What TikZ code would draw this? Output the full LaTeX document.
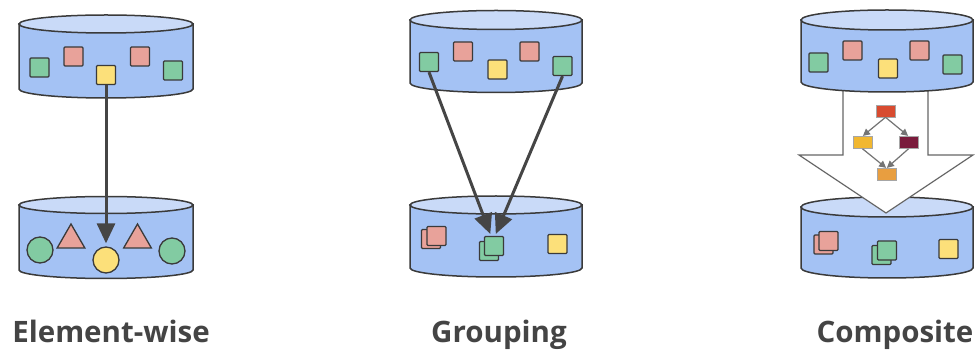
\documentclass[tikz,border=0pt]{standalone}
\usepackage{fontspec}
\setmainfont{Open Sans}
\usetikzlibrary{shapes.geometric,arrows.meta}

\definecolor{drumside}{HTML}{A4C2F4}
\definecolor{drumtop}{HTML}{C9DAF8}
\definecolor{inkline}{HTML}{3A3A3A}
\definecolor{itemgreen}{HTML}{82CBA2}
\definecolor{itemred}{HTML}{E8A29A}
\definecolor{itemyellow}{HTML}{FCE07A}
\definecolor{arrowgray}{HTML}{454545}
\definecolor{stepred}{HTML}{D84B30}
\definecolor{stepyellow}{HTML}{F1B730}
\definecolor{stepmaroon}{HTML}{7A1B3C}
\definecolor{steporange}{HTML}{E89E40}
\definecolor{labelgray}{HTML}{444444}

% A storage drum: centre x, top y, bottom y, x radius, y radius
\newcommand\drumshape[5]{%
  \filldraw[fill=drumside,draw=inkline,line width=1.5pt]
    (#1-#4,#2) -- (#1-#4,#3)
    arc[start angle=180,end angle=360,x radius=#4pt,y radius=#5pt]
    -- (#1+#4,#2) -- cycle;
  \filldraw[fill=drumtop,draw=inkline,line width=1.5pt]
    (#1,#2) ellipse[x radius=#4pt,y radius=#5pt];
}

\tikzset{
  item/.style={draw=inkline,line width=1.3pt,inner sep=0pt,minimum size=19pt,rounded corners=1pt},
  gsq/.style={item,fill=itemgreen},
  rsq/.style={item,fill=itemred},
  ysq/.style={item,fill=itemyellow},
  gdot/.style={circle,draw=inkline,line width=1.3pt,inner sep=0pt,minimum size=26pt,fill=itemgreen},
  ydot/.style={gdot,fill=itemyellow},
  rtri/.style={regular polygon,regular polygon sides=3,draw=inkline,line width=1.3pt,inner sep=0pt,minimum size=32pt,fill=itemred},
  flow/.style={draw=arrowgray,line width=3pt,-{Triangle[width=18pt,length=20pt]}},
  stepbox/.style={draw=gray!70,line width=0.6pt,inner sep=0pt,minimum width=19pt,minimum height=12pt},
  steparrow/.style={draw=gray!90!black,line width=1.2pt,-{Triangle[width=7pt,length=7pt]},shorten >=0.5pt},
  caption/.style={font=\bfseries\fontsize{29.5}{34}\selectfont,text=labelgray,anchor=base,inner sep=0pt}
}

\begin{document}
\begin{tikzpicture}[x=1pt,y=-1pt]
\useasboundingbox (0,0) rectangle (976,352);

% ---------- Element-wise ----------
\drumshape{106}{24}{89}{87}{9}
\drumshape{106}{205}{270}{87}{8.5}
\node[gsq] (e1) at (39.5,67.5) {};
\node[rsq] (e2) at (73.5,56.5) {};
\node[ysq] (e3) at (106,75) {};
\node[rsq] (e4) at (140,56.5) {};
\node[gsq] (e5) at (173,70.5) {};
\node[gdot] (f1) at (40,250) {};
\node[rtri] (f2) at (71,240) {};
\node[ydot] (f3) at (106,260) {};
\node[rtri] (f4) at (137.5,240) {};
\node[gdot] (f5) at (172,251) {};
\draw[flow,shorten >=3pt] (e3.south) -- (f3.north);

% ---------- Grouping ----------
\drumshape{496}{20}{83}{86}{9.5}
\drumshape{496}{205}{268}{86}{9}
\node[gsq] (g1) at (429,62) {};
\node[rsq] (g2) at (463,51.5) {};
\node[ysq] (g3) at (497.5,69.5) {};
\node[rsq] (g4) at (529.5,51.5) {};
\node[gsq] (g5) at (562.5,66) {};
\node[rsq] (h1b) at (431,239) {};
\node[rsq] (h1) at (436.5,236) {};
\node[gsq] (h2b) at (489,251) {};
\node[gsq] (h2) at (494,246) {};
\node[ysq] (h3) at (557.5,244) {};
\draw[flow,shorten >=2pt] (g1.south) -- ([xshift=-3pt]h2.north);
\draw[flow,shorten >=2pt] (g5.south) -- ([xshift=1pt]h2.north);

% ---------- Composite ----------
\drumshape{887}{207}{268}{86}{10}
\filldraw[fill=white,draw=gray!80!black,line width=1.2pt,line join=miter]
  (843,80) -- (843,155) -- (799,155) -- (886,213) -- (973,155) -- (928,155) -- (928,80);
\drumshape{887}{20}{82}{86}{10}
\node[gsq] (c1) at (818.5,62.5) {};
\node[rsq] (c2) at (852.5,50.5) {};
\node[ysq] (c3) at (888,68.5) {};
\node[rsq] (c4) at (919.5,50.5) {};
\node[gsq] (c5) at (952.5,64.5) {};
\node[rsq] (d1b) at (823.5,244.5) {};
\node[rsq] (d1) at (828.5,241) {};
\node[gsq] (d2b) at (881.5,255) {};
\node[gsq] (d2) at (887,250.5) {};
\node[ysq] (d3) at (948.5,249) {};

\node[stepbox,fill=stepred] (s1) at (885.5,111) {};
\node[stepbox,fill=stepyellow] (s2) at (862.5,142.5) {};
\node[stepbox,fill=stepmaroon] (s3) at (908.5,142.5) {};
\node[stepbox,fill=steporange] (s4) at (886.5,174.5) {};
\draw[steparrow] (s1.south) -- (s2.north);
\draw[steparrow] (s1.south) -- (s3.north);
\draw[steparrow] (s2.south) -- (s4.north);
\draw[steparrow] (s3.south) -- (s4.north);

% ---------- captions ----------
\node[caption] (t1) at (111,342) {Element-wise};
\node[caption] (t2) at (499,342) {Grouping};
\node[caption] (t3) at (895,342) {Composite};
\end{tikzpicture}
\end{document}
